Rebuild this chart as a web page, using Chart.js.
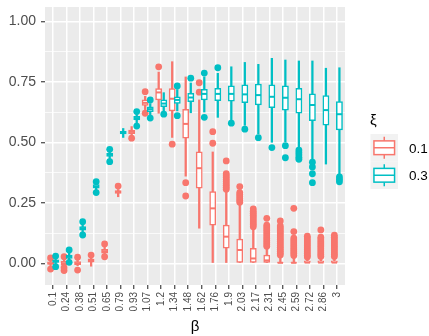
<!DOCTYPE html>
<html>
<head>
<meta charset="utf-8">
<script src="https://cdn.jsdelivr.net/npm/chart.js@4.4.1/dist/chart.umd.min.js"></script>
<style>
  html, body { margin: 0; padding: 0; background: #ffffff; }
  canvas { display: block; }
</style>
</head>
<body>
<canvas id="c" width="429" height="336"></canvas>
<script>
// Categories on the x axis (β)
const betaLabels = ['0.1','0.24','0.38','0.51','0.65','0.79','0.93','1.07','1.2','1.34','1.48',
                    '1.62','1.76','1.9','2.03','2.17','2.31','2.45','2.59','2.72','2.86','3'];

// Y axis ticks
const yTickValues = [0, 0.25, 0.5, 0.75, 1];
const yTickLabels = ['0.00', '0.25', '0.50', '0.75', '1.00'];
const yMinorValues = [0.125, 0.375, 0.625, 0.875];

// Legend levels (ξ)
const xiLevels = ['0.1', '0.3'];

// ξ = 0.1 : whisker ends, quartiles, medians, outliers
const redLow  = [-0.010,-0.012,-0.010,-0.012,0.032,0.275,0.530,0.635,0.620,0.520,0.360,0.145,0.000,0.000,0.000,0.000,0.000,0.000,0.000,0.000,0.000,0.000];
const redQ1   = [-0.005,-0.006,-0.006,0.005,0.042,0.289,0.536,0.652,0.675,0.630,0.517,0.310,0.158,0.062,0.000,0.000,0.000,0.000,0.000,0.000,0.000,0.000];
const redMed  = [0.000,0.000,0.000,0.012,0.050,0.295,0.543,0.663,0.706,0.680,0.576,0.393,0.227,0.110,0.055,0.020,0.012,0.002,0.002,0.003,0.003,0.003];
const redQ3   = [0.006,0.008,0.007,0.018,0.058,0.300,0.550,0.675,0.722,0.722,0.636,0.461,0.296,0.158,0.100,0.062,0.034,0.005,0.005,0.010,0.010,0.010];
const redHigh = [0.012,0.015,0.012,0.024,0.066,0.305,0.565,0.690,0.790,0.833,0.770,0.675,0.460,0.300,0.240,0.140,0.060,0.028,0.025,0.020,0.020,0.020];
const redOut = [
  [0.022,-0.024],
  [0.027,-0.030,-0.018],
  [0.025,-0.028],
  [0.034],
  [0.080,0.027],
  [0.319],
  [0.517],
  [0.709,0.620],
  [0.812],
  [0.492],
  [0.333,0.278],
  [0.746,0.707],
  [0.544,0.496],
  [0.423,0.370,0.362,0.354,0.346,0.338,0.330,0.322,0.314,0.306],
  [0.317,0.292,0.284,0.276,0.268,0.260,0.252],
  [0.225,0.215,0.207,0.199,0.191,0.183,0.175,0.167,0.159,0.151],
  [0.186,0.158,0.150,0.142,0.134,0.126,0.118,0.110,0.102,0.094,0.086,0.078,0.070],
  [0.175,0.154,0.146,0.138,0.130,0.122,0.114,0.106,0.098,0.090,0.082,0.074,0.066,0.058,0.050,0.042,0.034],
  [0.227,0.131,0.104,0.096,0.088,0.080,0.072,0.064,0.056,0.048,0.040,0.032],
  [0.112,0.104,0.096,0.088,0.080,0.072,0.064,0.056,0.048,0.040,0.032,0.026],
  [0.138,0.108,0.100,0.092,0.084,0.076,0.068,0.060,0.052,0.044,0.036,0.028],
  [0.116,0.108,0.100,0.092,0.084,0.076,0.068,0.060,0.052,0.044,0.036,0.028]
];

// ξ = 0.3
const tealLow  = [-0.008,0.012,0.125,0.300,0.430,0.520,0.580,0.610,0.628,0.630,0.622,0.625,0.603,0.590,0.570,0.535,0.500,0.502,0.480,0.427,0.410,0.365];
const tealQ1   = [0.000,0.020,0.137,0.310,0.442,0.535,0.592,0.627,0.647,0.661,0.668,0.675,0.672,0.670,0.664,0.654,0.643,0.633,0.620,0.589,0.571,0.551];
const tealMed  = [0.008,0.027,0.145,0.317,0.448,0.540,0.600,0.637,0.660,0.675,0.685,0.700,0.700,0.700,0.698,0.695,0.688,0.684,0.678,0.654,0.633,0.616];
const tealQ3   = [0.014,0.034,0.152,0.325,0.455,0.545,0.607,0.647,0.675,0.688,0.702,0.719,0.723,0.733,0.737,0.740,0.737,0.733,0.723,0.700,0.693,0.668];
const tealHigh = [0.020,0.045,0.162,0.330,0.465,0.557,0.615,0.660,0.705,0.718,0.745,0.770,0.785,0.812,0.830,0.822,0.847,0.840,0.836,0.836,0.806,0.808];
const tealOut = [
  [0.030,-0.014],
  [0.055,0.004],
  [0.172,0.117],
  [0.337,0.292],
  [0.471,0.420],
  [],
  [0.627,0.567],
  [0.675,0.600],
  [0.616],
  [0.733,0.610],
  [0.765],
  [0.786,0.603],
  [0.808],
  [0.579],
  [0.554],
  [0.519],
  [0.478],
  [0.486,0.436],
  [0.468,0.458,0.448,0.438,0.430],
  [0.418,0.398,0.370,0.333],
  [],
  [0.357,0.347,0.337]
];

const RED = '#F8766D';
const TEAL = '#00BFC4';
const FONT = 'Liberation Sans';
const DODGE = 0.1875;

// One boxplot series = outliers, whiskers, boxes, medians (drawn in that order, bottom to top)
function boxSeries(color, off, lo, q1, med, q3, hi, outs, orderBase) {
  return [
    {
      type: 'scatter',
      data: outs.flatMap((arr, i) => arr.map(v => ({ x: i + off, y: v }))),
      pointRadius: 3.4, pointBackgroundColor: color, pointBorderWidth: 0,
      order: orderBase + 3
    },
    {
      type: 'bar',
      data: lo.map((v, i) => ({ x: i + off, y: [v, hi[i]] })),
      backgroundColor: color, borderWidth: 0, barThickness: 1.6, grouped: false,
      order: orderBase + 2
    },
    {
      type: 'bar',
      data: q1.map((v, i) => ({ x: i + off, y: [v, q3[i]] })),
      backgroundColor: '#FFFFFF', borderColor: color, borderWidth: 1.5, borderSkipped: false,
      barThickness: 6.2, grouped: false,
      order: orderBase + 1
    },
    {
      type: 'scatter',
      data: med.map((v, i) => ({ x: i + off, y: v })),
      pointStyle: 'line', pointRadius: 2.7, pointBorderColor: color, pointBorderWidth: 2,
      order: orderBase
    }
  ];
}

// Grey panel behind the grid
const panelBg = {
  id: 'panelBg',
  beforeDraw(chart) {
    const { ctx, chartArea: a } = chart;
    ctx.save();
    ctx.fillStyle = '#EBEBEB';
    ctx.fillRect(a.left, a.top, a.right - a.left, a.bottom - a.top);
    ctx.restore();
  }
};

// Legend with boxplot keys
const boxLegend = {
  id: 'boxLegend',
  afterDraw(chart) {
    const ctx = chart.ctx;
    const colors = [RED, TEAL];
    const kx = 370.5, kw = 27.5, kh = 27.5, top = 134;
    ctx.save();
    ctx.fillStyle = '#000000';
    ctx.textAlign = 'left';
    ctx.textBaseline = 'middle';
    ctx.font = '15px "' + FONT + '"';
    ctx.fillText('ξ', 370, 121);
    xiLevels.forEach((lvl, k) => {
      const ky = top + k * kh;
      ctx.fillStyle = '#F2F2F2';
      ctx.fillRect(kx, ky, kw, kh);
      ctx.strokeStyle = colors[k];
      ctx.lineWidth = 1.5;
      const cx = kx + kw / 2;
      ctx.beginPath();
      ctx.moveTo(cx, ky + kh * 0.1); ctx.lineTo(cx, ky + kh * 0.25);
      ctx.moveTo(cx, ky + kh * 0.75); ctx.lineTo(cx, ky + kh * 0.9);
      ctx.stroke();
      ctx.fillStyle = '#FFFFFF';
      ctx.fillRect(kx + kw * 0.125, ky + kh * 0.25, kw * 0.75, kh * 0.5);
      ctx.strokeRect(kx + kw * 0.125, ky + kh * 0.25, kw * 0.75, kh * 0.5);
      ctx.beginPath();
      ctx.moveTo(kx + kw * 0.125, ky + kh / 2); ctx.lineTo(kx + kw * 0.875, ky + kh / 2);
      ctx.stroke();
      ctx.fillStyle = '#000000';
      ctx.font = '13.5px "' + FONT + '"';
      ctx.fillText(lvl, 409, ky + kh / 2 + 1.5);
    });
    ctx.restore();
  }
};

const yAllTicks = yTickValues.concat(yMinorValues).sort((a, b) => a - b);
const isMajor = v => yTickValues.indexOf(v) !== -1;

new Chart(document.getElementById('c'), {
  type: 'bar',
  data: {
    datasets: [
      ...boxSeries(RED, -DODGE, redLow, redQ1, redMed, redQ3, redHigh, redOut, 5),
      ...boxSeries(TEAL, DODGE, tealLow, tealQ1, tealMed, tealQ3, tealHigh, tealOut, 1)
    ]
  },
  options: {
    responsive: false,
    animation: false,
    events: [],
    layout: { padding: { top: 7, right: 84, bottom: 0, left: 0 } },
    plugins: { legend: { display: false }, tooltip: { enabled: false } },
    scales: {
      x: {
        type: 'linear', min: -0.6, max: 21.6, bounds: 'data', offset: false,
        grid: { offset: false, color: '#FFFFFF', lineWidth: 1.5, tickLength: 4, tickColor: '#333333', tickWidth: 1.1 },
        border: { display: false },
        ticks: {
          autoSkip: false, maxRotation: 90, minRotation: 90, padding: 3,
          color: '#4D4D4D', font: { family: FONT, size: 10 },
          callback: v => betaLabels[v] !== undefined ? betaLabels[v] : ''
        },
        afterBuildTicks: s => { s.ticks = betaLabels.map((_, i) => ({ value: i })); },
        afterFit: s => { s.height = 51; s.paddingLeft = 0; s.paddingRight = 0; },
        title: { display: true, text: 'β', color: '#000000', font: { family: FONT, size: 15 }, padding: { top: 0, bottom: 0 } }
      },
      y: {
        type: 'linear', min: -0.0897, max: 1.059, bounds: 'data',
        grid: {
          color: '#FFFFFF',
          lineWidth: c => (c.tick && isMajor(c.tick.value)) ? 1.5 : 0.75,
          tickLength: 4,
          tickColor: c => (c.tick && isMajor(c.tick.value)) ? '#333333' : 'rgba(0,0,0,0)',
          tickWidth: 1.1
        },
        border: { display: false },
        ticks: {
          autoSkip: false, padding: 5, color: '#4D4D4D', font: { family: FONT, size: 14 },
          callback: v => { const k = yTickValues.indexOf(v); return k === -1 ? '' : yTickLabels[k]; }
        },
        afterBuildTicks: s => { s.ticks = yAllTicks.map(v => ({ value: v })); },
        afterFit: s => { s.width = 45; s.paddingTop = 0; s.paddingBottom = 0; }
      }
    }
  },
  plugins: [panelBg, boxLegend]
});
</script>
</body>
</html>
